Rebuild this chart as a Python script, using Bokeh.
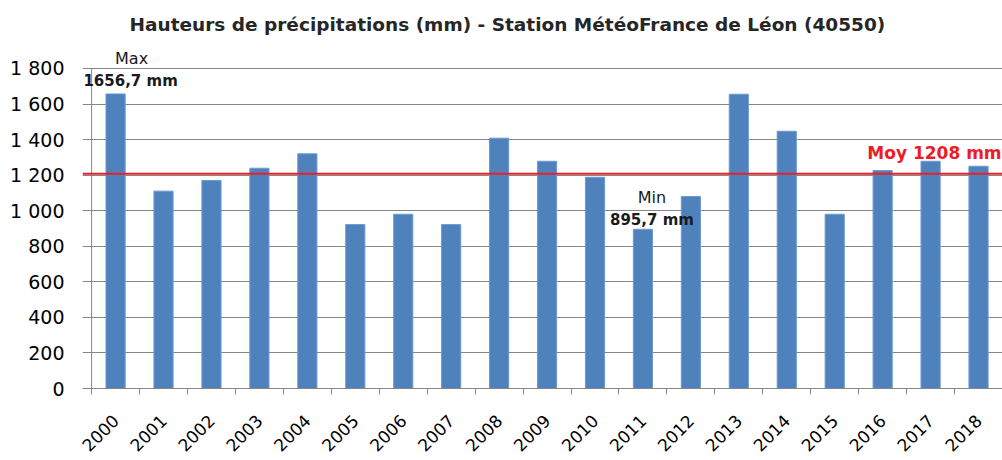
import numpy as np
from bokeh.plotting import figure
from bokeh.models import FixedTicker, Span, Label, ColumnDataSource
from bokeh.embed import file_html
from bokeh.resources import INLINE

# ---- data ----
years = ["2000", "2001", "2002", "2003", "2004", "2005", "2006", "2007", "2008", "2009",
         "2010", "2011", "2012", "2013", "2014", "2015", "2016", "2017", "2018"]
rainfall = [1656.7, 1110, 1170, 1239, 1320, 922, 980, 922, 1408, 1278,
            1188, 895.7, 1080, 1655, 1447, 980, 1226, 1278, 1250]
mean_value = 1208
y_ticks = [0, 200, 400, 600, 800, 1000, 1200, 1400, 1600, 1800]
title_text = "Hauteurs de précipitations (mm) - Station MétéoFrance de Léon (40550)"

FONT = "DejaVu Sans"
GRID = "#868686"
BAR = "#4F81BD"
RED = "#EE1C25"
Y_END = 1946     # headroom above the last tick for the "Max" note
X_START = -0.69  # small gap left of the first category so gridlines stick out as ticks
AXIS_X = -0.5    # value axis sits at the left edge of the first category

idx = list(range(len(years)))
source = ColumnDataSource(dict(x=idx, top=rainfall, year=years))

p = figure(width=1002, height=460,
           x_range=(X_START, len(years) - 0.5), y_range=(0, Y_END),
           output_backend="svg", toolbar_location=None,
           min_border_left=82, min_border_right=0, min_border_top=42, min_border_bottom=40)

p.vbar(x="x", top="top", width=0.4, source=source,
       fill_color=BAR, line_color="#6D9BD0", line_width=1)

# value-axis line from first to last tick
p.segment(x0=[AXIS_X], y0=[y_ticks[0]], x1=[AXIS_X], y1=[y_ticks[-1]], line_color=GRID, line_width=1)

# mean line
p.add_layout(Span(location=mean_value, dimension="width", line_color=RED, line_width=2))

# title
p.title.text = title_text
p.title.align = "left"
p.title.offset = 47
p.title.text_font = FONT
p.title.text_font_size = "18.5px"
p.title.text_font_style = "bold"
p.title.text_color = "#262626"
p.title.standoff = 16

# frame & grid
p.outline_line_color = None
p.xgrid.grid_line_color = None
p.ygrid.grid_line_color = GRID
p.ygrid.grid_line_width = 1
p.background_fill_color = "white"
p.border_fill_color = "white"

# y axis labels (line and ticks come from the segment and gridlines)
p.yaxis.ticker = FixedTicker(ticks=y_ticks)
p.yaxis.major_label_overrides = {t: f"{t:,}".replace(",", " ") for t in y_ticks}
p.yaxis.axis_line_color = None
p.yaxis.major_tick_line_color = None
p.yaxis.minor_tick_line_color = None
p.yaxis.major_label_standoff = 12
p.yaxis.major_label_text_font = FONT
p.yaxis.major_label_text_font_size = "19px"
p.yaxis.major_label_text_color = "#000000"

# x axis: labels at centres, ticks at category boundaries
p.xaxis.ticker = FixedTicker(ticks=idx, minor_ticks=[i - 0.5 for i in range(len(years) + 1)])
p.xaxis.major_label_overrides = {i: y for i, y in enumerate(years)}
p.xaxis.axis_line_color = GRID
p.xaxis.major_tick_line_color = None
p.xaxis.minor_tick_line_color = GRID
p.xaxis.minor_tick_out = 6
p.xaxis.minor_tick_in = 0
p.xaxis.major_label_orientation = np.pi / 4
p.xaxis.major_label_standoff = 23
p.xaxis.major_label_text_font = FONT
p.xaxis.major_label_text_font_size = "17px"
p.xaxis.major_label_text_color = "#000000"


def fmt(v):
    return f"{v:.1f}".replace(".", ",") + " mm"


max_i = int(np.argmax(rainfall))
min_i = int(np.argmin(rainfall))

common = dict(text_font=FONT, text_align="center", text_baseline="middle", text_color="#1a1a1a")
p.add_layout(Label(x=max_i, y=rainfall[max_i], text="Max", x_offset=16, y_offset=35,
                   text_font_size="16px", **common))
p.add_layout(Label(x=max_i, y=rainfall[max_i], text=fmt(rainfall[max_i]), x_offset=15, y_offset=13,
                   text_font_size="15px", text_font_style="bold", **common))
p.add_layout(Label(x=min_i, y=rainfall[min_i], text="Min", x_offset=9, y_offset=32,
                   text_font_size="16px", **common))
p.add_layout(Label(x=min_i, y=rainfall[min_i], text=fmt(rainfall[min_i]), x_offset=9, y_offset=9,
                   text_font_size="15px", text_font_style="bold", **common))
p.add_layout(Label(x=len(years) - 0.5, y=mean_value, text=f"Moy  {mean_value} mm",
                   x_offset=5, y_offset=21, text_font=FONT, text_font_size="17px",
                   text_font_style="bold", text_color=RED, text_align="right",
                   text_baseline="middle"))

open("out.html", "w").write(file_html(p, INLINE))
